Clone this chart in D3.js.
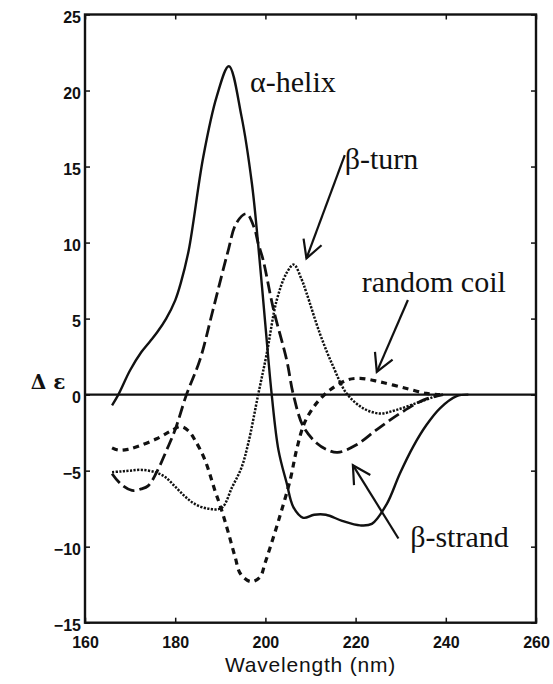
<!DOCTYPE html>
<html>
<head>
<meta charset="utf-8">
<script src="https://cdn.jsdelivr.net/npm/d3@7"></script>
<style>
  body { margin: 0; background: #fff; }
  svg { display: block; }
  .tick text { font-family: "Liberation Sans", Arial, sans-serif; font-weight: bold; font-size: 16px; fill: #111; }
  .tick line { stroke: #111; stroke-width: 1.5; }
  .label { font-family: "Liberation Serif", "Times New Roman", serif; font-size: 30px; fill: #111; }
</style>
</head>
<body>
<div id="chart"></div>
<script>
// wavelength ticks and delta-epsilon ticks
var xTicks = [160, 180, 200, 220, 240, 260];
var yTicks = [-15, -10, -5, 0, 5, 10, 15, 20, 25];

// alpha-helix (solid)
var helixW = [166, 167.4, 170, 172.5, 174.4, 176, 178, 180, 181.2, 183, 186.2, 189.2, 191.9, 194.7, 197, 198.3, 199.9, 201.4, 202.9, 204.7, 206.2, 208.4, 210.8, 213.4, 217, 221, 223.6, 226.9, 229.8, 232.8, 235.7, 238.7, 242.4, 245];
var helixE = [-0.7, 0, 1.6, 2.8, 3.5, 4.1, 5.0, 6.2, 7.3, 9.5, 15.6, 19.6, 21.6, 18.3, 13.9, 10.2, 4.9, 0, -3.65, -5.8, -7.4, -8.1, -7.9, -7.9, -8.3, -8.6, -8.5, -7.2, -5.2, -3.4, -2.0, -0.9, -0.1, 0];

// beta-strand (long dashes)
var strandW = [166, 168, 170.4, 172.5, 174, 175.9, 178.1, 180, 182.5, 185.5, 188.4, 191.6, 193.6, 195.8, 197.5, 198.4, 199.5, 201.8, 204.7, 206.2, 208.4, 211.4, 213.5, 216, 220.2, 224.7, 229.8, 235, 239.4];
var strandE = [-5.2, -5.9, -6.3, -6.2, -6.0, -5.1, -3.65, -2.3, 0, 2.3, 5.6, 9.3, 11.3, 11.9, 11.0, 9.95, 8.85, 5.6, 2.3, 0, -2.1, -3.2, -3.6, -3.8, -3.3, -2.3, -1.24, -0.36, 0];

// random coil (short dashes)
var coilW = [166, 167.4, 169.5, 171.8, 175.9, 179, 181.2, 183, 184.4, 186.6, 188.8, 190.3, 191.8, 193.3, 194.5, 196.8, 198.8, 199.9, 201, 203.2, 205.5, 206.9, 208.6, 210.5, 212.1, 214.3, 218, 221, 225.4, 231.3, 235.7, 238.7];
var coilE = [-3.5, -3.65, -3.6, -3.4, -2.9, -2.4, -2.1, -2.4, -3.0, -4.3, -6.3, -7.6, -9.1, -10.7, -11.8, -12.3, -12.0, -11.1, -10.1, -8.0, -5.6, -3.65, -1.9, -0.9, -0.3, 0.3, 0.95, 1.07, 0.84, 0.4, 0.08, 0];

// beta-turn (fine dots)
var turnW = [166, 168, 170, 172.6, 175.5, 177.7, 180, 182.2, 184.4, 187.3, 190.3, 192.6, 194.7, 196.2, 198.4, 200.3, 202.5, 204.7, 206.3, 208, 209.1, 212.1, 215.1, 218, 221.7, 225.4, 229.1, 234.3, 238.7];
var turnE = [-5.1, -5.05, -5.0, -4.95, -5.1, -5.4, -6.05, -6.7, -7.2, -7.5, -7.45, -6.1, -4.8, -3.2, 0, 2.7, 6.2, 8.0, 8.55, 7.6, 6.7, 4.0, 1.8, 0.08, -0.9, -1.24, -1.0, -0.47, 0];

// annotation labels and arrows (data coords)
var labelText = ["\u03b1-helix", "\u03b2-turn", "random coil", "\u03b2-strand"];
var labelW = [196.6, 217.6, 221.35, 232.1];
var labelE = [19.9, 14.84, 6.76, -10.0];
var arrowFromW = [217.6, 231.6, 229.5];
var arrowFromE = [15.75, 6.22, -9.46];
var arrowToW = [209.1, 224.7, 219.4];
var arrowToE = [8.96, 1.5, -4.64];

var width = 553, height = 684;
var svg = d3.select("#chart").append("svg")
  .attr("width", width)
  .attr("height", height);

var x = d3.scaleLinear().domain([160, 260]).range([85, 536]);
var y = d3.scaleLinear().domain([-15, 25]).range([622.7, 14.5]);

// axes, ticks pointing inward
svg.append("g")
  .attr("transform", "translate(0," + y(-15) + ")")
  .call(d3.axisBottom(x).tickValues(xTicks).tickSize(-5).tickPadding(14))
  .call(function (g) { g.select(".domain").remove(); });

svg.append("g")
  .attr("transform", "translate(0," + y(25) + ")")
  .call(d3.axisTop(x).tickValues(xTicks).tickSize(-5).tickFormat(""))
  .call(function (g) { g.select(".domain").remove(); });

svg.append("g")
  .attr("transform", "translate(" + x(160) + ",0)")
  .call(d3.axisLeft(y).tickValues(yTicks).tickSize(-5).tickPadding(4))
  .call(function (g) {
    g.select(".domain").remove();
    g.selectAll("text").attr("dy", "0.5em");
  });

svg.append("g")
  .attr("transform", "translate(" + x(260) + ",0)")
  .call(d3.axisRight(y).tickValues(yTicks).tickSize(-5).tickFormat(""))
  .call(function (g) { g.select(".domain").remove(); });

svg.append("rect")
  .attr("x", x(160))
  .attr("y", y(25))
  .attr("width", x(260) - x(160))
  .attr("height", y(-15) - y(25))
  .attr("fill", "none")
  .attr("stroke", "#111")
  .attr("stroke-width", 2.4);

// zero line
svg.append("line")
  .attr("x1", x(160)).attr("x2", x(260))
  .attr("y1", y(0)).attr("y2", y(0))
  .attr("stroke", "#111")
  .attr("stroke-width", 2.2);

var line = d3.line()
  .x(function (d) { return x(d[0]); })
  .y(function (d) { return y(d[1]); })
  .curve(d3.curveCatmullRom.alpha(0.5));

function draw(ws, es, dash, sw) {
  svg.append("path")
    .datum(d3.zip(ws, es))
    .attr("d", line)
    .attr("fill", "none")
    .attr("stroke", "#111")
    .attr("stroke-width", sw)
    .attr("stroke-dasharray", dash)
    .attr("stroke-linecap", "butt");
}

draw(turnW, turnE, "2.2,1.4", 2.5);
draw(coilW, coilE, "6,5", 3.2);
draw(strandW, strandE, "12,5", 2.8);
draw(helixW, helixE, null, 2.4);

// labels
svg.selectAll("text.label")
  .data(labelText)
  .enter()
  .append("text")
  .attr("class", "label")
  .attr("x", function (d, i) { return x(labelW[i]); })
  .attr("y", function (d, i) { return y(labelE[i]); })
  .text(function (d) { return d; });

// arrows with open heads
arrowToW.forEach(function (w, i) {
  var x1 = x(arrowFromW[i]), y1 = y(arrowFromE[i]);
  var x2 = x(w), y2 = y(arrowToE[i]);
  var a = Math.atan2(y1 - y2, x1 - x2);
  var len = 20, spread = 0.5;
  var g = svg.append("g").attr("stroke", "#111").attr("stroke-width", 2.2).attr("fill", "none");
  g.append("line").attr("x1", x1).attr("y1", y1).attr("x2", x2).attr("y2", y2);
  g.append("path")
    .attr("d", "M" + (x2 + len * Math.cos(a - spread)) + "," + (y2 + len * Math.sin(a - spread)) +
      "L" + x2 + "," + y2 +
      "L" + (x2 + len * Math.cos(a + spread)) + "," + (y2 + len * Math.sin(a + spread)));
});

// axis titles
svg.append("text")
  .attr("x", (x(160) + x(260)) / 2)
  .attr("y", 672)
  .attr("text-anchor", "middle")
  .style("font-family", "'Liberation Sans', Arial, sans-serif")
  .style("font-size", "21px")
  .style("letter-spacing", "0.8px")
  .style("fill", "#111")
  .text("Wavelength  (nm)");

svg.append("text")
  .attr("x", 48)
  .attr("y", 389)
  .attr("text-anchor", "middle")
  .style("font-family", "'DejaVu Serif', serif")
  .style("font-weight", "bold")
  .style("font-size", "20px")
  .style("fill", "#111")
  .text("\u0394 \u03b5");
</script>
</body>
</html>
